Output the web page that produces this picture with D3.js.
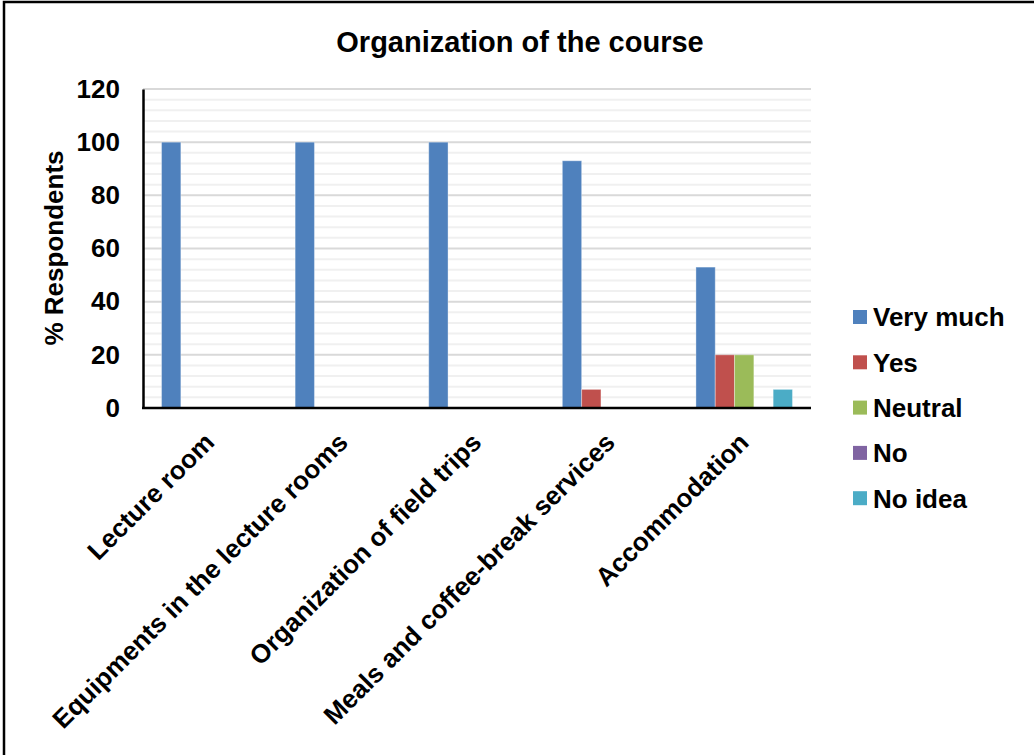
<!DOCTYPE html>
<html>
<head>
<meta charset="utf-8">
<script src="https://cdn.jsdelivr.net/npm/d3@7"></script>
<style>
  body { margin: 0; background: #fff; }
  svg text { font-family: "Liberation Sans", Arial, sans-serif; font-weight: bold; fill: #000; }
</style>
</head>
<body>
<svg id="chart" width="1034" height="755"></svg>
<script>
// categories on the x axis
const categories = [
  "Lecture room",
  "Equipments in the lecture rooms",
  "Organization of field trips",
  "Meals and coffee-break services",
  "Accommodation"
];
// series (legend order)
const seriesNames = ["Very much", "Yes", "Neutral", "No", "No idea"];
const seriesColors = ["#4F81BD", "#C0504D", "#9BBB59", "#8064A2", "#4BACC6"];
// % respondents, one array per series, aligned with categories
const veryMuch = [100, 100, 100, 93, 53];
const yes = [0, 0, 0, 7, 20];
const neutral = [0, 0, 0, 0, 20];
const no = [0, 0, 0, 0, 0];
const noIdea = [0, 0, 0, 0, 7];
const yTicks = [0, 20, 40, 60, 80, 100, 120];

const seriesValues = [veryMuch, yes, neutral, no, noIdea];

/*
Layout
*/
const plot = { left: 143, right: 811, top: 89, bottom: 408 };
const labelSize = "26px";
const svg = d3.select("#chart");

// outer frame (right and bottom edges fall outside the picture)
svg.append("rect")
  .attr("x", 4).attr("y", 2)
  .attr("width", 1040).attr("height", 760)
  .attr("fill", "none")
  .attr("stroke", "#000")
  .attr("stroke-width", 2.5);

// title
svg.append("text")
  .attr("x", 520).attr("y", 52)
  .attr("text-anchor", "middle")
  .style("font-size", "29px")
  .text("Organization of the course");

// scales
const xScale = d3.scaleBand()
  .domain(categories)
  .range([plot.left, plot.right])
  .padding(0);

const xInner = d3.scaleBand()
  .domain(seriesNames)
  .range([0, xScale.bandwidth()])
  .paddingInner(0)
  .paddingOuter(0.96);

const yScale = d3.scaleLinear()
  .domain([0, 120])
  .range([plot.bottom, plot.top]);

// gridlines: minor every 4, major every 20
const minorTicks = d3.range(4, 120, 4).filter((v) => v % 20 !== 0);
svg.append("g")
  .selectAll("line")
  .data(minorTicks)
  .enter()
  .append("line")
  .attr("x1", plot.left).attr("x2", plot.right)
  .attr("y1", (d) => yScale(d)).attr("y2", (d) => yScale(d))
  .attr("stroke", "#f0f0f0")
  .attr("stroke-width", 2);

svg.append("g")
  .selectAll("line")
  .data(yTicks.filter((v) => v > 0))
  .enter()
  .append("line")
  .attr("x1", plot.left).attr("x2", plot.right)
  .attr("y1", (d) => yScale(d)).attr("y2", (d) => yScale(d))
  .attr("stroke", "#d9d9d9")
  .attr("stroke-width", 2);

// bars
const barData = [];
categories.forEach((c, i) => {
  seriesNames.forEach((s, j) => {
    barData.push({ category: c, series: s, value: seriesValues[j][i], color: seriesColors[j] });
  });
});

svg.append("g")
  .selectAll("rect")
  .data(barData.filter((d) => d.value > 0))
  .enter()
  .append("rect")
  .attr("x", (d) => xScale(d.category) + xInner(d.series))
  .attr("width", xInner.bandwidth())
  .attr("y", (d) => yScale(d.value))
  .attr("height", (d) => yScale(0) - yScale(d.value))
  .attr("fill", (d) => d.color)
  .attr("stroke", "rgba(255,255,255,0.35)")
  .attr("stroke-width", 1);

// y axis
const yAxis = d3.axisLeft(yScale).tickValues(yTicks).tickSize(0).tickPadding(23);
const gY = svg.append("g")
  .attr("transform", "translate(" + plot.left + ",0)")
  .call(yAxis);
gY.select(".domain").attr("stroke", "#000").attr("stroke-width", 2.5);
gY.selectAll("text")
  .style("font-size", labelSize)
  .style("font-family", "'Liberation Sans', Arial, sans-serif")
  .style("font-weight", "bold")
  .attr("fill", "#000");

// x axis line
svg.append("line")
  .attr("x1", plot.left - 1).attr("x2", plot.right)
  .attr("y1", plot.bottom).attr("y2", plot.bottom)
  .attr("stroke", "#000")
  .attr("stroke-width", 2.5);

// rotated category labels
svg.append("g")
  .selectAll("text")
  .data(categories)
  .enter()
  .append("text")
  .attr("text-anchor", "end")
  .attr("transform", (d) =>
    "translate(" + (xScale(d) + xScale.bandwidth() / 2 + 6) + "," + 444 + ") rotate(-45)")
  .style("font-size", labelSize)
  .text((d) => d);

// y axis label
svg.append("text")
  .attr("text-anchor", "middle")
  .attr("transform", "translate(63,248) rotate(-90)")
  .style("font-size", labelSize)
  .text("% Respondents");

// legend
const legend = svg.append("g")
  .selectAll("g")
  .data(seriesNames)
  .enter()
  .append("g")
  .attr("transform", (d, i) => "translate(853," + (317 + i * 45.3) + ")");

legend.append("rect")
  .attr("x", 0).attr("y", -7)
  .attr("width", 14).attr("height", 14)
  .attr("fill", (d, i) => seriesColors[i]);

legend.append("text")
  .attr("x", 20).attr("y", 0)
  .attr("dy", "0.36em")
  .style("font-size", labelSize)
  .text((d) => d);
</script>
</body>
</html>
